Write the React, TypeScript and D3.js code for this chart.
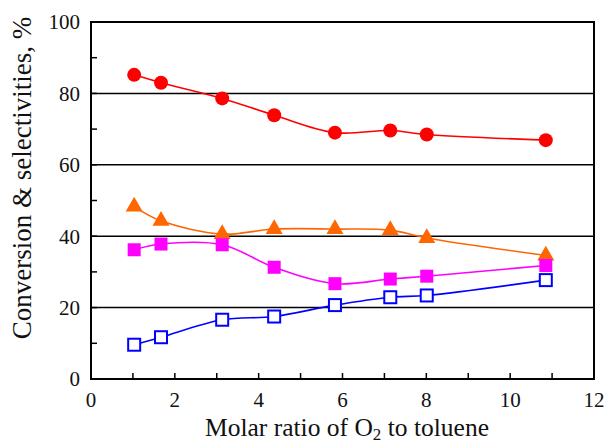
import React from "react";
import * as d3 from "d3";

const ratios = [1.03, 1.67, 3.13, 4.37, 5.82, 7.14, 8.01, 10.85];
const conversionRed = [85.2, 83.0, 78.6, 73.9, 69.0, 69.6, 68.5, 66.9];
const selOrange = [48.3, 44.3, 40.6, 42.0, 42.0, 41.7, 39.5, 34.6];
const selMagenta = [36.2, 37.8, 37.6, 31.3, 26.7, 28.0, 28.8, 31.8];
const selBlue = [9.6, 11.7, 16.6, 17.5, 20.7, 22.9, 23.4, 27.7];
const xTicks = [0, 2, 4, 6, 8, 10, 12];
const yTicks = [0, 20, 40, 60, 80, 100];
const gridValues = [20, 40, 60, 80];

const W = 605;
const H = 443;
const M = { left: 91, right: 594, top: 22, bottom: 379 };

export default function App() {
  const x = d3.scaleLinear().domain([0, 12]).range([M.left, M.right]);
  const y = d3.scaleLinear().domain([0, 100]).range([M.bottom, M.top]);
  const line = d3
    .line<[number, number]>()
    .x((d) => x(d[0]))
    .y((d) => y(d[1]))
    .curve(d3.curveCatmullRom.alpha(0.5));
  const pts = (vals: number[]) => ratios.map((r, i) => [r, vals[i]] as [number, number]);
  const minorX = d3.range(1, 12, 1);
  const minorY = d3.range(10, 100, 10);
  const serif = "'Liberation Serif', 'Times New Roman', serif";
  const tri = d3.symbol().type(d3.symbolTriangle).size(125)() as string;

  return (
    <svg width={W} height={H} style={{ position: "absolute", left: 0, top: 0, background: "#fff" }}>
      <rect x={0} y={0} width={W} height={H} fill="#fff" />
      {gridValues.map((g) => (
        <line key={g} x1={M.left} x2={M.right} y1={y(g)} y2={y(g)} stroke="#000" strokeWidth={1.5} />
      ))}
      {minorX.map((t) => (
        <line key={"xt" + t} x1={x(t)} x2={x(t)} y1={M.bottom} y2={M.bottom - 6} stroke="#000" strokeWidth={1.5} />
      ))}
      {minorY.map((t) => (
        <line key={"yt" + t} x1={M.left} x2={M.left + 6} y1={y(t)} y2={y(t)} stroke="#000" strokeWidth={1.5} />
      ))}
      <rect x={M.left} y={M.top} width={M.right - M.left} height={M.bottom - M.top} fill="none" stroke="#000" strokeWidth={2} />

      <path d={line(pts(conversionRed)) as string} fill="none" stroke="#ff0000" strokeWidth={1.6} />
      <path d={line(pts(selOrange)) as string} fill="none" stroke="#ff6600" strokeWidth={1.6} />
      <path d={line(pts(selMagenta)) as string} fill="none" stroke="#ff00ff" strokeWidth={1.6} />
      <path d={line(pts(selBlue)) as string} fill="none" stroke="#0000ff" strokeWidth={1.6} />

      {pts(conversionRed).map((d, i) => (
        <circle key={"r" + i} cx={x(d[0])} cy={y(d[1])} r={7} fill="#ff0000" />
      ))}
      {pts(selOrange).map((d, i) => (
        <path key={"o" + i} d={tri} transform={`translate(${x(d[0])},${y(d[1])})`} fill="#ff6600" />
      ))}
      {pts(selMagenta).map((d, i) => (
        <rect key={"m" + i} x={x(d[0]) - 6.5} y={y(d[1]) - 6.5} width={13} height={13} fill="#ff00ff" />
      ))}
      {pts(selBlue).map((d, i) => (
        <rect key={"b" + i} x={x(d[0]) - 6} y={y(d[1]) - 6} width={12} height={12} fill="#fff" stroke="#0000ff" strokeWidth={2} />
      ))}

      {yTicks.map((t) => (
        <text key={"yl" + t} x={80} y={y(t)} dy="0.35em" textAnchor="end" fontFamily={serif} fontSize={21} fill="#111">
          {t}
        </text>
      ))}
      {xTicks.map((t) => (
        <text key={"xl" + t} x={x(t)} y={407} textAnchor="middle" fontFamily={serif} fontSize={21} fill="#111">
          {t}
        </text>
      ))}
      <text x={347} y={436} textAnchor="middle" fontFamily={serif} fontSize={25.5} fill="#111">
        Molar ratio of O<tspan fontSize={17} dy={4}>2</tspan>
        <tspan dy={-4}> to toluene</tspan>
      </text>
      <text
        transform={`translate(31,178) rotate(-90)`}
        textAnchor="middle"
        fontFamily={serif}
        fontSize={27}
        fill="#111"
      >
        Conversion &amp; selectivities, %
      </text>
    </svg>
  );
}
